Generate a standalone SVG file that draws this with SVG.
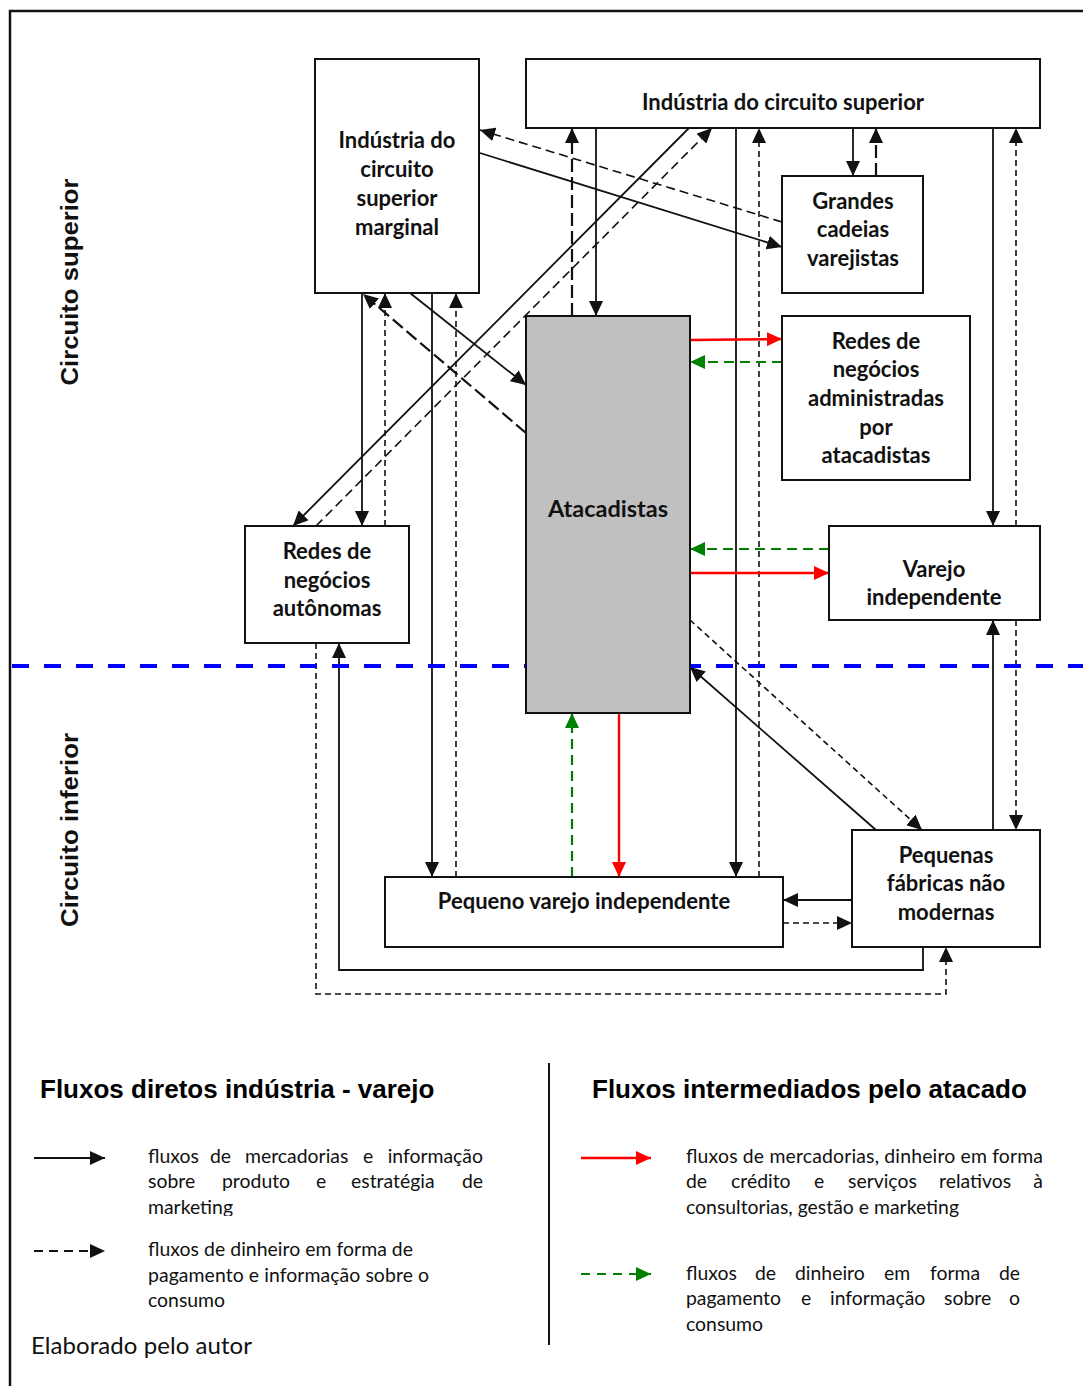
<svg xmlns="http://www.w3.org/2000/svg" width="1083" height="1386" viewBox="0 0 1083 1386">
  <style>
    .box { fill: #ffffff; stroke: #111111; stroke-width: 2; }
    .grey { fill: #c0c0c0; }
    .lbl { font-family: Lato, "Open Sans", sans-serif; font-weight: bold; font-size: 22px; fill: #111111; text-anchor: middle; }
    .big { font-size: 23.5px; }
    .s { fill: none; stroke: #111111; stroke-width: 1.8; marker-end: url(#ah); }
    .d { fill: none; stroke: #111111; stroke-width: 1.6; stroke-dasharray: 6 4; marker-end: url(#ah); }
    .dm { stroke-dasharray: 9 5; }
    .dt { stroke-width: 2.2; stroke-dasharray: 13 5; }
    .r { fill: none; stroke: #ff0000; stroke-width: 2.4; marker-end: url(#ahr); }
    .g { fill: none; stroke: #008000; stroke-width: 2.2; stroke-dasharray: 10 6; marker-end: url(#ahg); }
    .side { font-family: "Liberation Sans", Arial, sans-serif; font-weight: bold; font-size: 24px; fill: #111111; text-anchor: middle; }
    .title { font-family: "Liberation Sans", Arial, sans-serif; font-weight: bold; font-size: 26px; fill: #000000; }
    .txt { font-family: Lato, "Open Sans", sans-serif; font-size: 19.4px; fill: #111111; }
  </style>
  <defs>
    <marker id="ah" markerWidth="15" markerHeight="14" refX="15" refY="7" orient="auto" markerUnits="userSpaceOnUse">
      <path d="M0,0 L15,7 L0,14 z" fill="#111111"/>
    </marker>
    <marker id="ahr" markerWidth="15" markerHeight="14" refX="15" refY="7" orient="auto" markerUnits="userSpaceOnUse">
      <path d="M0,0 L15,7 L0,14 z" fill="#ff0000"/>
    </marker>
    <marker id="ahg" markerWidth="15" markerHeight="14" refX="15" refY="7" orient="auto" markerUnits="userSpaceOnUse">
      <path d="M0,0 L15,7 L0,14 z" fill="#008000"/>
    </marker>
    <clipPath id="cut1">
      <rect x="140" y="1140" width="360" height="76"/>
    </clipPath>
  </defs>

  <rect width="1083" height="1386" fill="#ffffff"/>

  <!-- outer frame (top and left edges) -->
  <path d="M10,1386 L10,11 L1083,11" fill="none" stroke="#111111" stroke-width="2.5"/>

  <!-- side labels -->
  <text class="side" transform="translate(78,282) rotate(-90)" textLength="207" lengthAdjust="spacingAndGlyphs">Circuito superior</text>
  <text class="side" transform="translate(78,830) rotate(-90)" textLength="194" lengthAdjust="spacingAndGlyphs">Circuito inferior</text>

  <!-- connectors -->
  <g id="connectors">
    <!-- solid: goods and information -->
    <path class="s" d="M480,153 L782,247"/>
    <path class="s" d="M596,128 L596,316"/>
    <path class="s" d="M689,128 L293,526"/>
    <path class="s" d="M736,128 L736,877"/>
    <path class="s" d="M853,128 L853,176"/>
    <path class="s" d="M993,128 L993,526"/>
    <path class="s" d="M993,830 L993,620"/>
    <path class="s" d="M876,830 L690,667"/>
    <path class="s" d="M852,900 L783,900"/>
    <path class="s" d="M923,947 L923,970 L339,970 L339,643"/>
    <path class="s" d="M432,293 L432,877"/>
    <path class="s" d="M362,293 L362,526"/>
    <path class="s" d="M410,293 L526,385"/>

    <!-- dashed: payments and consumption information -->
    <path class="d dm" d="M782,222 L480,130"/>
    <path class="d dt" d="M572,316 L572,128"/>
    <path class="d dm" d="M316,526 L712,128"/>
    <path class="d" d="M759,877 L759,128"/>
    <path class="d dt" d="M876,176 L876,128"/>
    <path class="d" d="M1016,526 L1016,128"/>
    <path class="d" d="M1016,620 L1016,830"/>
    <path class="d" d="M690,620 L922,830"/>
    <path class="d" d="M783,923 L852,923"/>
    <path class="d" d="M316,643 L316,994 L946,994 L946,947"/>
    <path class="d" d="M456,877 L456,293"/>
    <path class="d" d="M385,526 L385,293"/>
    <path class="d dt" d="M526,433 L363,294"/>

    <!-- wholesale-mediated flows -->
    <path class="r" d="M690,340 L782,339"/>
    <path class="r" d="M690,573 L829,573"/>
    <path class="r" d="M619,713 L619,877"/>
    <path class="g" d="M782,362 L690,362"/>
    <path class="g" d="M829,549 L690,549"/>
    <path class="g" d="M572,877 L572,713"/>
  </g>

  <!-- boundary between upper and lower circuit -->
  <line x1="12" y1="666" x2="1083" y2="666" stroke="#0000ff" stroke-width="4" stroke-dasharray="17 15"/>

  <!-- nodes -->
  <g id="industria-marginal">
    <rect class="box" x="315" y="59" width="164" height="234"/>
    <text class="lbl" x="397" y="148">Indústria do</text>
    <text class="lbl" x="397" y="177">circuito</text>
    <text class="lbl" x="397" y="206">superior</text>
    <text class="lbl" x="397" y="235">marginal</text>
  </g>
  <g id="industria-superior">
    <rect class="box" x="526" y="59" width="514" height="69"/>
    <text class="lbl" x="783" y="110">Indústria do circuito superior</text>
  </g>
  <g id="grandes-cadeias">
    <rect class="box" x="782" y="176" width="141" height="117"/>
    <text class="lbl" x="853" y="209">Grandes</text>
    <text class="lbl" x="853" y="237">cadeias</text>
    <text class="lbl" x="853" y="266">varejistas</text>
  </g>
  <g id="redes-administradas">
    <rect class="box" x="782" y="316" width="188" height="164"/>
    <text class="lbl" x="876" y="349">Redes de</text>
    <text class="lbl" x="876" y="377">negócios</text>
    <text class="lbl" x="876" y="406">administradas</text>
    <text class="lbl" x="876" y="435">por</text>
    <text class="lbl" x="876" y="463">atacadistas</text>
  </g>
  <g id="atacadistas">
    <rect class="box grey" x="526" y="316" width="164" height="397"/>
    <text class="lbl big" x="608" y="517">Atacadistas</text>
  </g>
  <g id="redes-autonomas">
    <rect class="box" x="245" y="526" width="164" height="117"/>
    <text class="lbl" x="327" y="559">Redes de</text>
    <text class="lbl" x="327" y="588">negócios</text>
    <text class="lbl" x="327" y="616">autônomas</text>
  </g>
  <g id="varejo-independente">
    <rect class="box" x="829" y="526" width="211" height="94"/>
    <text class="lbl" x="934" y="577">Varejo</text>
    <text class="lbl" x="934" y="605">independente</text>
  </g>
  <g id="pequeno-varejo">
    <rect class="box" x="385" y="877" width="398" height="70"/>
    <text class="lbl" x="584" y="909">Pequeno varejo independente</text>
  </g>
  <g id="pequenas-fabricas">
    <rect class="box" x="852" y="830" width="188" height="117"/>
    <text class="lbl" x="946" y="863">Pequenas</text>
    <text class="lbl" x="946" y="891">fábricas não</text>
    <text class="lbl" x="946" y="920">modernas</text>
  </g>

  <!-- legend -->
  <g id="legend">
    <line x1="549" y1="1063" x2="549" y2="1345" stroke="#111111" stroke-width="2"/>

    <text class="title" x="40" y="1098">Fluxos diretos indústria - varejo</text>
    <text class="title" x="592" y="1098">Fluxos intermediados pelo atacado</text>

    <line x1="34" y1="1158" x2="105" y2="1158" class="s"/>
    <g clip-path="url(#cut1)">
      <text class="txt" y="1163"><tspan x="148">fluxos</tspan><tspan x="210">de</tspan><tspan x="245">mercadorias</tspan><tspan x="363">e</tspan><tspan x="483" text-anchor="end">informação</tspan></text>
      <text class="txt" y="1188"><tspan x="148">sobre</tspan><tspan x="222">produto</tspan><tspan x="316">e</tspan><tspan x="351">estratégia</tspan><tspan x="483" text-anchor="end">de</tspan></text>
      <text class="txt" x="148" y="1214">marketing</text>
    </g>

    <line x1="34" y1="1251" x2="105" y2="1251" class="d" style="stroke-dasharray: 9 6; stroke-width: 2"/>
    <text class="txt" x="148" y="1256" textLength="265">fluxos de dinheiro em forma de</text>
    <text class="txt" x="148" y="1282" textLength="281">pagamento e informação sobre o</text>
    <text class="txt" x="148" y="1307">consumo</text>

    <line x1="581" y1="1158" x2="651" y2="1158" class="r"/>
    <text class="txt" x="686" y="1163" textLength="357">fluxos de mercadorias, dinheiro em forma</text>
    <text class="txt" y="1188"><tspan x="686">de</tspan><tspan x="731">crédito</tspan><tspan x="814">e</tspan><tspan x="848">serviços</tspan><tspan x="939">relativos</tspan><tspan x="1043" text-anchor="end">à</tspan></text>
    <text class="txt" x="686" y="1214">consultorias, gestão e marketing</text>

    <line x1="581" y1="1274" x2="651" y2="1274" class="g" style="stroke-dasharray: 9 7"/>
    <text class="txt" y="1280"><tspan x="686">fluxos</tspan><tspan x="755">de</tspan><tspan x="795">dinheiro</tspan><tspan x="884">em</tspan><tspan x="930">forma</tspan><tspan x="1020" text-anchor="end">de</tspan></text>
    <text class="txt" y="1305"><tspan x="686">pagamento</tspan><tspan x="801">e</tspan><tspan x="830">informação</tspan><tspan x="944">sobre</tspan><tspan x="1020" text-anchor="end">o</tspan></text>
    <text class="txt" x="686" y="1331">consumo</text>

    <text class="txt" x="31" y="1354" style="font-size: 24px" textLength="221">Elaborado pelo autor</text>
  </g>
</svg>
